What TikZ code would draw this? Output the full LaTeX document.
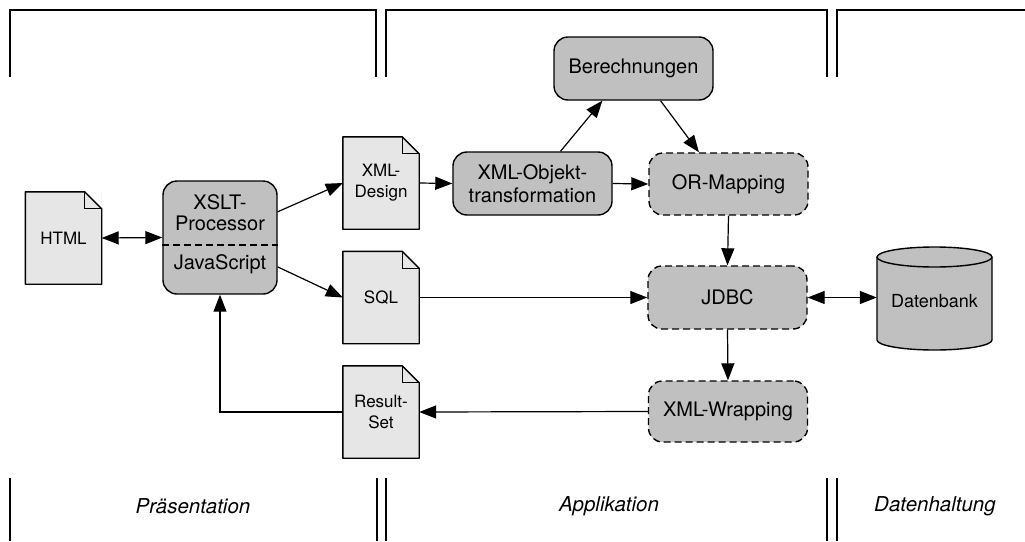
\documentclass[tikz,border=0pt]{standalone}
\usepackage{fontspec}
\setmainfont{TeX Gyre Heros}
\usetikzlibrary{arrows.meta}
\definecolor{boxgray}{RGB}{192,192,192}
\definecolor{docgray}{RGB}{230,230,230}
\newcommand\docoutline[1]{%
  \fill[white] ([xshift=-17pt]#1.north east) -- (#1.north east) -- ([yshift=-17pt]#1.north east) -- cycle;
  \draw[line width=1.4pt, line join=round] (#1.north west) -- ([xshift=-17pt]#1.north east) -- ([yshift=-17pt]#1.north east) -- (#1.south east) -- (#1.south west) -- cycle;
  \draw[line width=1pt] ([xshift=-17pt]#1.north east) |- ([yshift=-17pt]#1.north east);
}
\begin{document}
\begin{tikzpicture}[x=1pt,y=1pt,
  box/.style={draw, line width=1.4pt, fill=boxgray, rounded corners=14pt, minimum width=159pt, minimum height=63pt, inner sep=0pt, align=center, font=\fontsize{20}{23}\selectfont},
  dbox/.style={box, dash pattern=on 7pt off 4pt},
  doc/.style={fill=docgray, minimum width=76pt, minimum height=92pt, inner sep=0pt, align=center, font=\fontsize{17}{21}\selectfont},
  conn/.style={line width=1.2pt, -{Triangle[length=17pt,width=13pt]}},
  biconn/.style={line width=1.2pt, {Triangle[length=17pt,width=13pt]}-{Triangle[length=17pt,width=13pt]}},
  frameline/.style={line width=1.6pt},
  layer/.style={font=\fontsize{20.5}{24}\selectfont\itshape}]
\useasboundingbox (0,0) rectangle (1025,-541);

% frames top
\draw[frameline] (10,-77) -- (10,-10) -- (376,-10) -- (376,-77);
\draw[frameline] (386,-77) -- (386,-10) -- (827,-10) -- (827,-77);
\draw[frameline] (837,-77) -- (837,-10) -- (1025,-10);
% frames bottom
\foreach \xx in {10,377,386,827,837} \draw[frameline] (\xx,-478) -- (\xx,-541);

% layer labels
\node[layer] (praes) at (193,-506) {Präsentation};
\node[layer] (appl) at (609,-506) {Applikation};
\node[layer] (daten) at (935,-506) {Datenhaltung};

% documents
\node[doc] (html) at (63.5,-238) {HTML};
\node[doc] (xmld) at (381,-183) {XML-\\Design};
\node[doc] (sql) at (381,-297.5) {SQL};
\node[doc] (rs) at (381,-412) {Result-\\Set};
\docoutline{html}
\docoutline{xmld}
\docoutline{sql}
\docoutline{rs}

% XSLT box
\node[box, minimum width=114pt, minimum height=113pt] (xslt) at (220,-237.5) {};
\node[font=\fontsize{20}{21}\selectfont, align=center, inner sep=0pt] (xsltA) at (220,-212.5) {XSLT-\\Processor};
\node[font=\fontsize{20}{21}\selectfont, inner sep=0pt] (xsltB) at (220,-264) {JavaScript};
\draw[line width=1.2pt, dash pattern=on 7pt off 4pt] (xslt.west |- 0,-245) -- (xslt.east |- 0,-245);

% application boxes
\node[box] (ber) at (633.5,-68.5) {Berechnungen};
\node[box] (xobj) at (532.5,-183.5) {XML-Objekt-\\transformation};
\node[dbox, minimum height=62pt] (orm) at (728.5,-184) {OR-Mapping};
\node[dbox] (jdbc) at (727.5,-297.5) {JDBC};
\node[dbox, minimum height=61pt] (xwrap) at (728,-411.5) {XML-Wrapping};

% database cylinder
\draw[line width=1.4pt, fill=boxgray] (877,-257) -- (877,-340)
  arc[start angle=180, end angle=360, x radius=57.5pt, y radius=10pt] -- (992,-257)
  arc[start angle=0, end angle=180, x radius=57.5pt, y radius=10pt] -- cycle;
\draw[line width=1.4pt] (877,-257) arc[start angle=180, end angle=360, x radius=57.5pt, y radius=10pt];
\node[minimum width=115pt, minimum height=103pt, inner sep=0pt, font=\fontsize{18}{21}\selectfont] (db) at (934.5,-301) {Datenbank};

% connectors
\draw[biconn] (html.east) -- (xslt.west);
\draw[conn] (xslt.24) -- (xmld.west);
\draw[conn] (xslt.-27) -- (sql.west);
\draw[conn] (xmld.east) -- (xobj.west);
\draw[conn] (xobj.49) -- (ber.226);
\draw[conn] (ber.-50) -- (orm.133);
\draw[conn] (xobj.east) -- (orm.west);
\draw[conn] (orm.south) -- (jdbc.north);
\draw[conn] (sql.east) -- (jdbc.west);
\draw[biconn] (jdbc.east) -- (db.west |- jdbc.east);
\draw[conn] (jdbc.south) -- (xwrap.north);
\draw[conn] (xwrap.west) -- (rs.east);
\draw[conn] (rs.west) -| (xslt.south);
\end{tikzpicture}
\end{document}
